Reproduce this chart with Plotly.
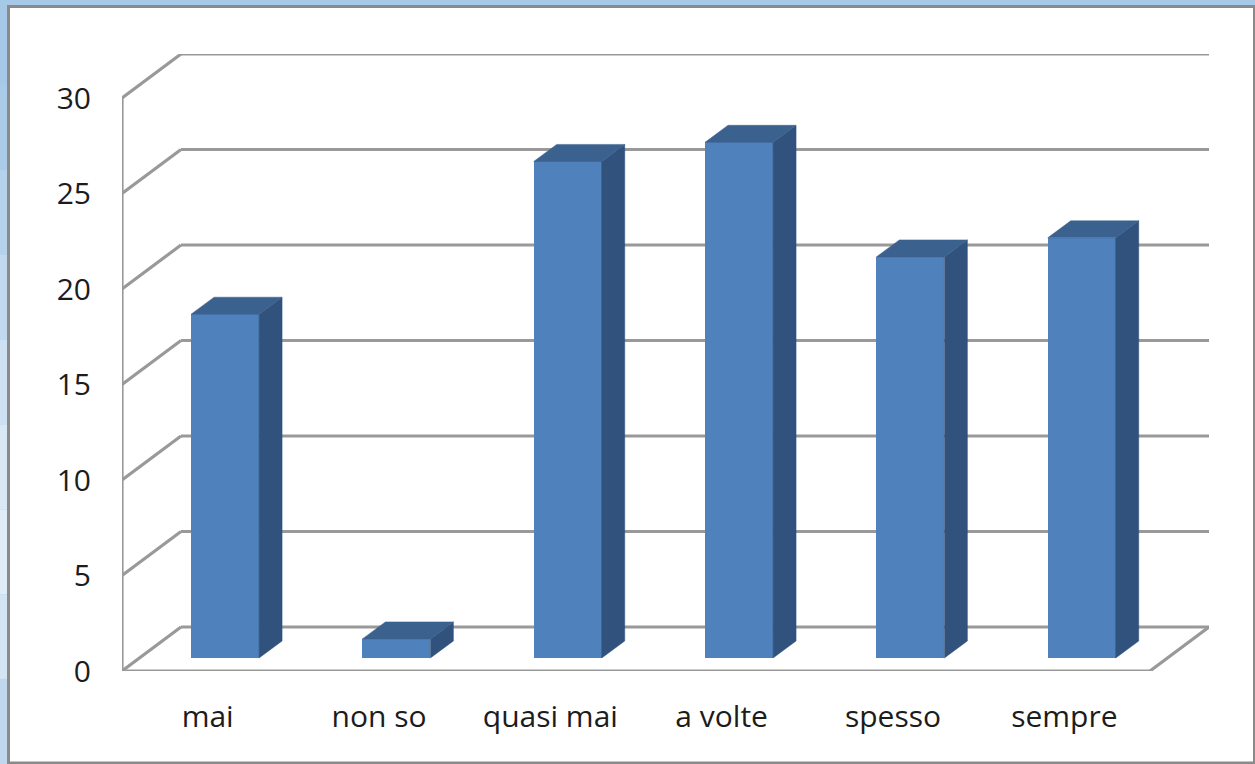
import plotly.graph_objects as go

# --- data ---
categories = ["mai", "non so", "quasi mai", "a volte", "spesso", "sempre"]
values = [18, 1, 26, 27, 21, 22]
y_ticks = [0, 5, 10, 15, 20, 25, 30]

# --- geometry of the pseudo-3D chart, in axis units ---
W, H = 1255, 764
L, R, T, B = 122, 1209, 54, 671
CAT_PX = 171.33
VAL_PX = 19.1
X_MAX = (R - L) / CAT_PX
Y_MAX = (B - T) / VAL_PX
DEPTH_X = 59 / CAT_PX
DEPTH_Y = 44 / VAL_PX
BAR_W = 68 / CAT_PX
BAR_SHIFT_X = 17.4 / CAT_PX
BAR_BASE = 13 / VAL_PX
BAR_DX = 23 / CAT_PX
BAR_DY = 17 / VAL_PX
N = len(categories)

FRONT, SIDE, TOP = "#4f81bd", "#30527c", "#3b618f"
GRID = "#999999"
TEXT = "#1c1c1c"
FONT = "Open Sans"


def xp(px):
    return (px - L) / (R - L)


def yp(px):
    return (B - px) / (B - T)


shapes = []


def seg(x0, y0, x1, y1):
    shapes.append(dict(type="line", xref="x", yref="y", x0=x0, y0=y0, x1=x1, y1=y1,
                       layer="below", line=dict(color=GRID, width=3.2)))


# window frame
left_strip = ["#a6c9e7", "#abcce9", "#b4d2ec", "#c0d9ef", "#cde1f2", "#d9e8f5", "#e0edf7", "#d3e4f3", "#bfd8ee"]
shapes.append(dict(type="rect", xref="paper", yref="paper", x0=xp(0), x1=xp(W), y0=yp(0), y1=yp(H),
                   layer="below", line=dict(width=0), fillcolor="#a6c9e7"))
for i, c in enumerate(left_strip):
    shapes.append(dict(type="rect", xref="paper", yref="paper", x0=xp(0), x1=xp(8),
                       y0=yp(H * i / len(left_strip)), y1=yp(H * (i + 1) / len(left_strip)),
                       layer="below", line=dict(width=0), fillcolor=c))
shapes.append(dict(type="rect", xref="paper", yref="paper", x0=xp(8.5), x1=xp(1254.5), y0=yp(6.5), y1=yp(763),
                   layer="below", line=dict(color="#8a8a8a", width=3), fillcolor="white"))

# walls and floor
for t in y_ticks:
    seg(DEPTH_X, t + DEPTH_Y, X_MAX, t + DEPTH_Y)
    seg(0, t, DEPTH_X, t + DEPTH_Y)
seg(0, 0, 0, y_ticks[-1])
seg(0, 0, N, 0)
seg(N, 0, N + DEPTH_X, DEPTH_Y)

fig = go.Figure()

bar_x = [i + 0.5 + BAR_SHIFT_X for i in range(N)]
fig.add_trace(go.Bar(x=bar_x, y=values, base=BAR_BASE, width=BAR_W,
                     marker=dict(color=FRONT, line=dict(width=0)), showlegend=False))

for cx, v in zip(bar_x, values):
    x0, x1 = cx - BAR_W / 2, cx + BAR_W / 2
    bot, top = BAR_BASE, BAR_BASE + v
    fig.add_trace(go.Scatter(
        x=[x1, x1 + BAR_DX, x1 + BAR_DX, x1, x1],
        y=[bot, bot + BAR_DY, top + BAR_DY, top, bot],
        mode="lines", fill="toself", fillcolor=SIDE, line=dict(width=0.5, color=SIDE), showlegend=False))
    fig.add_trace(go.Scatter(
        x=[x0, x1, x1 + BAR_DX, x0 + BAR_DX, x0],
        y=[top, top, top + BAR_DY, top + BAR_DY, top],
        mode="lines", fill="toself", fillcolor=TOP, line=dict(width=0.5, color=TOP), showlegend=False))

fig.update_layout(
    width=W, height=H, autosize=False,
    margin=dict(l=L, r=W - R, t=T, b=H - B, pad=0),
    paper_bgcolor="#a6c9e7", plot_bgcolor="rgba(0,0,0,0)",
    shapes=shapes, showlegend=False, bargap=0,
    font=dict(family=FONT, size=30, color=TEXT),
    xaxis=dict(range=[0, X_MAX], showgrid=False, zeroline=False, showline=False,
               tickmode="array", tickvals=[i + 0.5 for i in range(N)], ticktext=categories,
               ticks="", ticklabelstandoff=25),
    yaxis=dict(range=[0, Y_MAX], showgrid=False, zeroline=False, showline=False,
               tickmode="array", tickvals=y_ticks, ticktext=[str(t) for t in y_ticks],
               ticks="", ticklabelstandoff=30),
)

fig.write_html("out.html", config=dict(displayModeBar=False),
               post_script="document.body.style.margin='0';document.documentElement.style.overflow='hidden';")
